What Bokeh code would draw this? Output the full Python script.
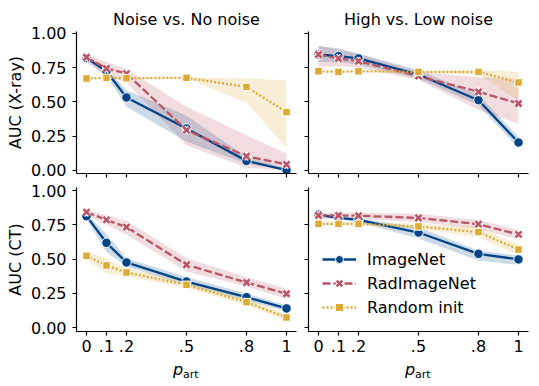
from bokeh.plotting import figure
from bokeh.models import Range1d, FixedTicker, Label, Legend, LegendItem
from bokeh.layouts import column, row
from bokeh.embed import file_html
from bokeh.resources import INLINE

# ---------------- data ----------------
p_art = [0.0, 0.1, 0.2, 0.5, 0.8, 1.0]
x_tick_labels = ["0", ".1", ".2", ".5", ".8", "1"]
y_ticks = [0.0, 0.25, 0.5, 0.75, 1.0]
y_tick_labels = ["0.00", "0.25", "0.50", "0.75", "1.00"]
col_titles = ["Noise vs. No noise", "High vs. Low noise"]
row_labels = ["AUC (X-ray)", "AUC (CT)"]
series_names = ["ImageNet", "RadImageNet", "Random init"]

# X-ray, Noise vs. No noise
xr_nn_img = [0.820, 0.723, 0.532, 0.306, 0.070, 0.002]
xr_nn_img_lo = [0.800, 0.690, 0.464, 0.210, 0.050, 0.000]
xr_nn_img_hi = [0.840, 0.740, 0.585, 0.400, 0.100, 0.015]
xr_nn_rad = [0.825, 0.743, 0.706, 0.294, 0.104, 0.044]
xr_nn_rad_lo = [0.784, 0.690, 0.640, 0.184, 0.020, 0.000]
xr_nn_rad_hi = [0.845, 0.790, 0.740, 0.464, 0.257, 0.124]
xr_nn_rnd = [0.670, 0.675, 0.672, 0.675, 0.609, 0.425]
xr_nn_rnd_lo = [0.665, 0.670, 0.667, 0.670, 0.495, 0.165]
xr_nn_rnd_hi = [0.675, 0.680, 0.677, 0.680, 0.670, 0.658]

# X-ray, High vs. Low noise
xr_hl_img = [0.845, 0.833, 0.816, 0.699, 0.512, 0.204]
xr_hl_img_lo = [0.790, 0.790, 0.770, 0.670, 0.475, 0.160]
xr_hl_img_hi = [0.905, 0.890, 0.850, 0.730, 0.550, 0.245]
xr_hl_rad = [0.845, 0.816, 0.796, 0.687, 0.573, 0.488]
xr_hl_rad_lo = [0.755, 0.760, 0.750, 0.660, 0.440, 0.340]
xr_hl_rad_hi = [0.910, 0.880, 0.850, 0.720, 0.680, 0.670]
xr_hl_rnd = [0.723, 0.718, 0.723, 0.718, 0.718, 0.641]
xr_hl_rnd_lo = [0.718, 0.713, 0.718, 0.713, 0.700, 0.510]
xr_hl_rnd_hi = [0.728, 0.723, 0.728, 0.723, 0.730, 0.720]

# CT, Noise vs. No noise
ct_nn_img = [0.813, 0.619, 0.476, 0.337, 0.223, 0.141]
ct_nn_img_lo = [0.790, 0.550, 0.447, 0.310, 0.200, 0.119]
ct_nn_img_hi = [0.830, 0.684, 0.507, 0.370, 0.250, 0.163]
ct_nn_rad = [0.842, 0.786, 0.733, 0.459, 0.330, 0.248]
ct_nn_rad_lo = [0.820, 0.750, 0.680, 0.410, 0.300, 0.211]
ct_nn_rad_hi = [0.860, 0.820, 0.780, 0.507, 0.370, 0.284]
ct_nn_rnd = [0.524, 0.454, 0.403, 0.313, 0.187, 0.075]
ct_nn_rnd_lo = [0.490, 0.400, 0.376, 0.289, 0.163, 0.053]
ct_nn_rnd_hi = [0.563, 0.500, 0.430, 0.345, 0.210, 0.100]

# CT, High vs. Low noise
ct_hl_img = [0.823, 0.800, 0.786, 0.694, 0.539, 0.498]
ct_hl_img_lo = [0.813, 0.790, 0.770, 0.650, 0.490, 0.459]
ct_hl_img_hi = [0.833, 0.810, 0.800, 0.730, 0.563, 0.527]
ct_hl_rad = [0.818, 0.818, 0.816, 0.800, 0.755, 0.680]
ct_hl_rad_lo = [0.790, 0.795, 0.795, 0.770, 0.720, 0.643]
ct_hl_rad_hi = [0.840, 0.840, 0.838, 0.830, 0.786, 0.714]
ct_hl_rnd = [0.757, 0.757, 0.757, 0.738, 0.697, 0.570]
ct_hl_rnd_lo = [0.745, 0.745, 0.745, 0.720, 0.660, 0.527]
ct_hl_rnd_hi = [0.770, 0.770, 0.770, 0.757, 0.733, 0.610]

# ---------------- style ----------------
FONT = "DejaVu Sans"
FS = "16px"
BLUE, RED, YELLOW = "#004488", "#BB5566", "#DDAA33"
TXT = "#000000"

LW, RW = 298, 240     # column widths
LBL, RBL = 76, 10     # left borders
FW = 220              # frame width


def make_fig(width, height, mbl, mbr, mbt, mbb, y0, y1, xlabels, ylabels, title=None, ylab=None):
    p = figure(width=width, height=height,
               x_range=Range1d(-0.05, 1.05), y_range=Range1d(y0, y1),
               output_backend="svg", toolbar_location=None,
               min_border_left=mbl, min_border_right=mbr,
               min_border_top=mbt, min_border_bottom=mbb)
    p.outline_line_color = None
    p.xgrid.visible = False
    p.ygrid.visible = False
    p.background_fill_color = "white"
    p.border_fill_color = "white"
    if title:
        p.title.text = title
        p.title.align = "center"
        p.title.text_font = FONT
        p.title.text_font_size = FS
        p.title.text_font_style = "normal"
        p.title.text_color = TXT
        p.title.standoff = 6
    for ax in (p.xaxis[0], p.yaxis[0]):
        ax.axis_line_color = TXT
        ax.axis_line_width = 1.2
        ax.major_tick_line_color = TXT
        ax.major_tick_line_width = 1.2
        ax.major_tick_out = 4
        ax.major_tick_in = 0
        ax.minor_tick_line_color = None
        ax.major_label_text_font = FONT
        ax.major_label_text_font_size = FS
        ax.major_label_text_color = TXT
    xa = p.xaxis[0]
    xa.ticker = FixedTicker(ticks=p_art)
    ya = p.yaxis[0]
    ya.ticker = FixedTicker(ticks=y_ticks)
    if xlabels:
        xa.major_label_overrides = {t: l for t, l in zip(p_art, x_tick_labels)}
        xa.major_label_standoff = 4
    else:
        xa.major_label_overrides = {t: "" for t in p_art}
        xa.major_label_text_font_size = "0px"
        xa.major_label_standoff = 0
    if ylabels:
        ya.major_label_overrides = {t: l for t, l in zip(y_ticks, y_tick_labels)}
        ya.major_label_standoff = 6
    else:
        ya.major_label_overrides = {t: "" for t in y_ticks}
        ya.major_label_text_font_size = "0px"
        ya.major_label_standoff = 0
    if ylab:
        ya.axis_label = ylab
        ya.axis_label_text_font = FONT
        ya.axis_label_text_font_size = FS
        ya.axis_label_text_font_style = "normal"
        ya.axis_label_text_color = TXT
        ya.axis_label_standoff = 3
    return p


def draw(p, img, img_lo, img_hi, rad, rad_lo, rad_hi, rnd, rnd_lo, rnd_hi):
    p.varea(x=p_art, y1=img_lo, y2=img_hi, fill_color=BLUE, fill_alpha=0.2)
    p.varea(x=p_art, y1=rad_lo, y2=rad_hi, fill_color=RED, fill_alpha=0.2)
    p.varea(x=p_art, y1=rnd_lo, y2=rnd_hi, fill_color=YELLOW, fill_alpha=0.2)
    l1 = p.line(p_art, img, line_color=BLUE, line_width=2.3)
    m1 = p.scatter(p_art, img, marker="circle", size=9.5, fill_color=BLUE,
                   line_color="white", line_width=1)
    l2 = p.line(p_art, rad, line_color=RED, line_width=2.3, line_dash="8 3")
    m2w = p.scatter(p_art, rad, marker="x", size=8.5, line_color="white", line_width=4.8)
    m2 = p.scatter(p_art, rad, marker="x", size=8.5, line_color=RED, line_width=2.6)
    l3 = p.line(p_art, rnd, line_color=YELLOW, line_width=2.3, line_dash="2 2")
    m3 = p.scatter(p_art, rnd, marker="square", size=7.5, fill_color=YELLOW,
                   line_color="white", line_width=1)
    return [[l1, m1], [l2, m2w, m2], [l3, m3]]


def label_fig(width, mbl, mbr):
    # strip below the bottom panels that carries the x-axis label p_art
    p = figure(width=width, height=26, x_range=Range1d(-0.05, 1.05), y_range=Range1d(0, 26),
               output_backend="svg", toolbar_location=None,
               x_axis_location=None, y_axis_location=None,
               min_border_left=mbl, min_border_right=mbr, min_border_top=0, min_border_bottom=0)
    p.outline_line_color = None
    p.xgrid.visible = False
    p.ygrid.visible = False
    p.border_fill_color = "white"
    p.add_layout(Label(x=0.4325, y=16.0, text="p", text_align="left", text_baseline="alphabetic",
                       text_font=FONT, text_font_size=FS, text_font_style="italic", text_color=TXT))
    p.add_layout(Label(x=0.4825, y=11.4, text="art", text_align="left", text_baseline="alphabetic",
                       text_font=FONT, text_font_size="11px", text_color=TXT))
    return p


TOP_Y = (-0.0219, 1.0124)
BOT_Y = (-0.0269, 1.0218)

p1 = make_fig(LW, 181, LBL, LW - LBL - FW, 31, 8, TOP_Y[0], TOP_Y[1], False, True,
              title=col_titles[0], ylab=row_labels[0])
p2 = make_fig(RW, 181, RBL, RW - RBL - FW, 31, 8, TOP_Y[0], TOP_Y[1], False, False,
              title=col_titles[1])
p3 = make_fig(LW, 178, LBL, LW - LBL - FW, 6, 28, BOT_Y[0], BOT_Y[1], True, True,
              ylab=row_labels[1])
p4 = make_fig(RW, 178, RBL, RW - RBL - FW, 6, 28, BOT_Y[0], BOT_Y[1], True, False)

draw(p1, xr_nn_img, xr_nn_img_lo, xr_nn_img_hi, xr_nn_rad, xr_nn_rad_lo, xr_nn_rad_hi,
     xr_nn_rnd, xr_nn_rnd_lo, xr_nn_rnd_hi)
draw(p2, xr_hl_img, xr_hl_img_lo, xr_hl_img_hi, xr_hl_rad, xr_hl_rad_lo, xr_hl_rad_hi,
     xr_hl_rnd, xr_hl_rnd_lo, xr_hl_rnd_hi)
draw(p3, ct_nn_img, ct_nn_img_lo, ct_nn_img_hi, ct_nn_rad, ct_nn_rad_lo, ct_nn_rad_hi,
     ct_nn_rnd, ct_nn_rnd_lo, ct_nn_rnd_hi)
rends = draw(p4, ct_hl_img, ct_hl_img_lo, ct_hl_img_hi, ct_hl_rad, ct_hl_rad_lo, ct_hl_rad_hi,
             ct_hl_rnd, ct_hl_rnd_lo, ct_hl_rnd_hi)

q3 = label_fig(LW, LBL, LW - LBL - FW)
q4 = label_fig(RW, RBL, RW - RBL - FW)

legend = Legend(items=[LegendItem(label=n, renderers=r) for n, r in zip(series_names, rends)],
                location=(14, 14), orientation="vertical")
legend.border_line_alpha = 0
legend.background_fill_alpha = 0
legend.padding = 0
legend.margin = 0
legend.spacing = 4
legend.glyph_width = 34
legend.glyph_height = 20
legend.label_height = 20
legend.label_standoff = 11
legend.label_text_font = FONT
legend.label_text_font_size = FS
legend.label_text_color = TXT
p4.add_layout(legend)

layout = column(row(p1, p2), row(p3, p4), row(q3, q4))
open("out.html", "w").write(file_html(layout, INLINE))
